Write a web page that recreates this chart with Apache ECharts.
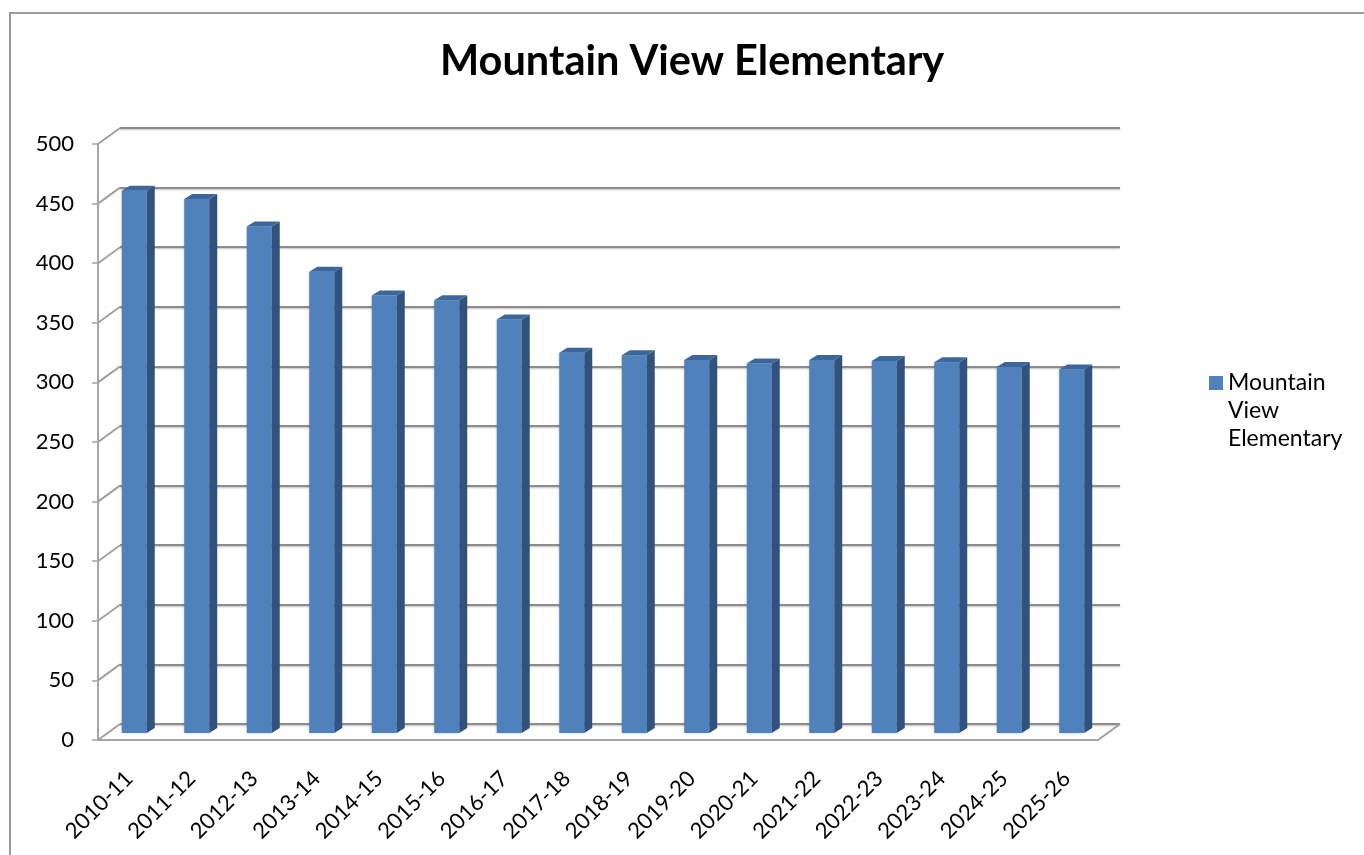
<!DOCTYPE html>
<html>
<head>
<meta charset="utf-8">
<title>Mountain View Elementary</title>
<script src="https://cdn.jsdelivr.net/npm/echarts@6/dist/echarts.min.js"></script>
<style>
  html, body { margin: 0; padding: 0; background: #fff; }
  #chart { width: 1364px; height: 855px; }
</style>
</head>
<body>
<div id="chart"></div>
<script>
var categories = ['2010-11', '2011-12', '2012-13', '2013-14', '2014-15', '2015-16', '2016-17', '2017-18',
  '2018-19', '2019-20', '2020-21', '2021-22', '2022-23', '2023-24', '2024-25', '2025-26']
var enrollment = [455, 448, 425, 387, 367, 363, 347, 319, 317, 313, 310, 313, 312, 311, 307, 305]
var yTicks = [0, 50, 100, 150, 200, 250, 300, 350, 400, 450, 500]
var seriesName = 'Mountain View Elementary'

// 3d look: back wall is shifted up-right from the front plane
var WALL_DX = 22
var WALL_DY = -16
var BAR_DX = 5
var BAR_DY = -7
var BAR_DEPTH_X = 8
var BAR_DEPTH_Y = -5

var fontFamily = 'Lato, "Open Sans", sans-serif'
var chart = echarts.init(document.getElementById('chart'))

chart.setOption({
  animation: false,
  backgroundColor: '#fff',
  title: {
    text: 'Mountain View Elementary',
    left: 435,
    top: 36,
    textStyle: { fontFamily: fontFamily, fontSize: 41.5, fontWeight: 'bold', color: '#000' }
  },
  legend: {
    orient: 'vertical',
    left: 1204,
    top: 364,
    itemWidth: 14,
    itemHeight: 84,
    // square sits next to the first text line
    data: [{ name: seriesName, icon: 'path://M0,7L14,7L14,21L0,21ZM0,0L0,0M0,84L0,84', itemStyle: { color: '#4f81bd' } }],
    formatter: function (name) {
      return name.split(' ').join('\n')
    },
    textStyle: {
      fontFamily: fontFamily,
      fontSize: 23,
      color: '#000',
      lineHeight: 28
    }
  },
  graphic: [{
    type: 'rect',
    shape: { x: 10, y: 13, width: 1400, height: 900 },
    style: { fill: 'none', stroke: '#9a9a9a', lineWidth: 2 },
    silent: true
  }],
  grid: [
    { left: 98, right: 266, top: 144, bottom: 115 },
    { left: 98 + WALL_DX, right: 266 - WALL_DX, top: 144 + WALL_DY, bottom: 115 - WALL_DY }
  ],
  xAxis: [
    {
      type: 'category',
      gridIndex: 0,
      data: categories,
      axisLine: { lineStyle: { color: '#a6a6a6', width: 2 } },
      axisTick: { length: 8, lineStyle: { color: '#a6a6a6', width: 1.5 } },
      axisLabel: {
        rotate: 45,
        margin: 35,
        fontFamily: fontFamily,
        fontSize: 22,
        color: '#000'
      }
    },
    {
      type: 'category',
      gridIndex: 1,
      data: categories,
      show: false
    }
  ],
  yAxis: [
    {
      type: 'value',
      gridIndex: 0,
      min: 0,
      max: 500,
      interval: 50,
      axisLine: { show: true, lineStyle: { color: '#a6a6a6', width: 2 } },
      axisTick: { show: true, length: 6, lineStyle: { color: '#a6a6a6', width: 1.5 } },
      splitLine: { show: false },
      axisLabel: {
        margin: 24,
        fontFamily: fontFamily,
        fontSize: 22,
        color: '#000'
      }
    },
    {
      type: 'value',
      gridIndex: 1,
      min: 0,
      max: 500,
      interval: 50,
      axisLine: { show: false },
      axisTick: { show: false },
      axisLabel: { show: false },
      splitLine: {
        show: true,
        lineStyle: {
          color: '#8c8c8c',
          width: 2,
          shadowColor: 'rgba(0,0,0,0.25)',
          shadowBlur: 2,
          shadowOffsetY: 1
        }
      }
    }
  ],
  series: [
    {
      // side wall and floor diagonals
      type: 'custom',
      xAxisIndex: 0,
      yAxisIndex: 0,
      silent: true,
      clip: false,
      z: 1,
      data: yTicks.map(function (v) { return [0, v] }),
      encode: { x: 0, y: 1 },
      renderItem: function (params, api) {
        var p = api.coord([0, api.value(1)])
        var band = api.size([1, 0])[0]
        var x0 = p[0] - band / 2
        var children = [{
          type: 'line',
          shape: { x1: x0, y1: p[1], x2: x0 + WALL_DX, y2: p[1] + WALL_DY },
          style: { stroke: '#a0a0a0', lineWidth: 2 }
        }]
        if (api.value(1) === 0) {
          var pr = api.coord([categories.length - 1, 0])
          var xr = pr[0] + band / 2
          children.push({
            type: 'line',
            shape: { x1: xr, y1: pr[1], x2: xr + WALL_DX, y2: pr[1] + WALL_DY },
            style: { stroke: '#a0a0a0', lineWidth: 2 }
          })
        }
        return { type: 'group', children: children }
      }
    },
    {
      name: seriesName,
      type: 'custom',
      xAxisIndex: 0,
      yAxisIndex: 0,
      clip: false,
      z: 3,
      itemStyle: { color: '#4f81bd' },
      data: enrollment.map(function (v, i) { return [i, v] }),
      encode: { x: 0, y: 1 },
      renderItem: function (params, api) {
        var top = api.coord([api.value(0), api.value(1)])
        var base = api.coord([api.value(0), 0])
        var band = api.size([1, 0])[0]
        var w = band * 0.4
        var x = top[0] - w / 2 + BAR_DX
        var yt = top[1] + BAR_DY
        var yb = base[1] + BAR_DY
        var dx = BAR_DEPTH_X
        var dy = BAR_DEPTH_Y
        return {
          type: 'group',
          children: [
            {
              type: 'rect',
              shape: { x: x, y: yt, width: w, height: yb - yt },
              style: { fill: '#4f81bd', shadowColor: 'rgba(0,0,0,0.25)', shadowBlur: 3 }
            },
            {
              type: 'polygon',
              shape: { points: [[x + w, yt], [x + w + dx, yt + dy], [x + w + dx, yb + dy], [x + w, yb]] },
              style: { fill: '#30527c' }
            },
            {
              type: 'polygon',
              shape: { points: [[x, yt], [x + dx, yt + dy], [x + w + dx, yt + dy], [x + w, yt]] },
              style: { fill: '#3c679b' }
            }
          ]
        }
      }
    }
  ]
})
</script>
</body>
</html>
